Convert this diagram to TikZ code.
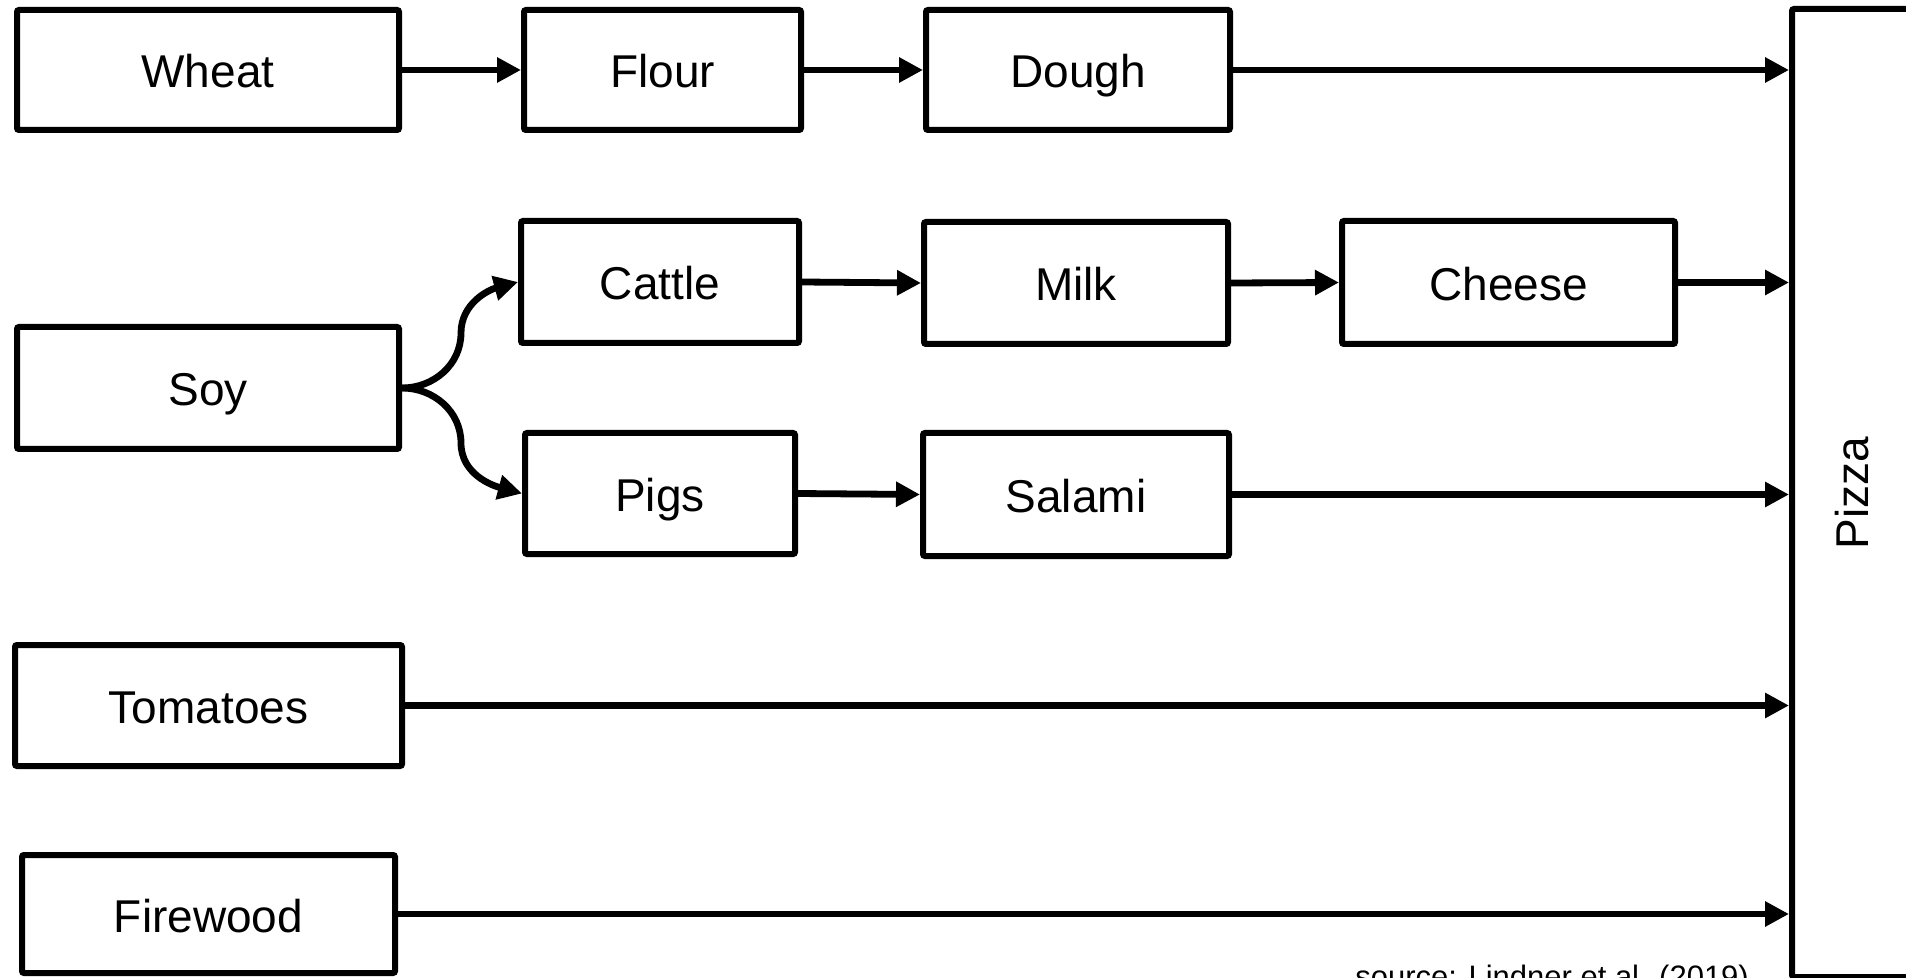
\documentclass[tikz,border=0pt]{standalone}
\usepackage{fontspec}
\setmainfont{Liberation Sans}
\usetikzlibrary{arrows.meta}
\tikzset{
  box/.style={draw, line width=3pt, rounded corners=1pt, inner sep=0pt, font=\fontsize{23pt}{27pt}\selectfont, fill=white, text height=21pt, text depth=3pt},
  flow/.style={line width=3.4pt, -{Triangle[length=12pt,width=12pt]}},
}
\begin{document}
\begin{tikzpicture}[x=0.5pt,y=-0.5pt]
\useasboundingbox (0,0) rectangle (1906,978);
\fill[white] (0,0) rectangle (1906,978);
\node[box, minimum width=191pt, minimum height=60pt] (wheat) at (208,70) {Wheat};
\node[box, minimum width=138.5pt, minimum height=60pt] (flour) at (662.5,70) {Flour};
\node[box, minimum width=152pt, minimum height=60pt] (dough) at (1078,70) {Dough};
\node[box, minimum width=139pt, minimum height=61pt] (cattle) at (660,282) {Cattle};
\node[box, minimum width=152pt, minimum height=61pt] (milk) at (1076,283) {Milk};
\node[box, minimum width=166.5pt, minimum height=61.5pt] (cheese) at (1508.5,282.5) {Cheese};
\node[box, minimum width=191pt, minimum height=61pt] (soy) at (208,388) {Soy};
\node[box, minimum width=135pt, minimum height=60.5pt] (pigs) at (660,493.5) {Pigs};
\node[box, minimum width=153pt, minimum height=61.5pt] (salami) at (1076,494.5) {Salami};
\node[box, minimum width=193.5pt, minimum height=60.5pt] (tomatoes) at (208.5,705.5) {Tomatoes};
\node[box, minimum width=186.5pt, minimum height=59pt] (firewood) at (208.5,914) {Firewood};
\node[box, text height=, text depth=, minimum width=60pt, minimum height=484pt] (pizza) at (1852,493) {\rotatebox{90}{Pizza}};
\coordinate (cu) at (461,333);
\coordinate (cd) at (461,443);
\draw[flow] (wheat.east) -- (flour.west);
\draw[flow] (flour.east) -- (dough.west);
\draw[flow] (dough.east) -- (dough.east -| pizza.west);
\draw[flow] (cattle.east) -- (milk.west);
\draw[flow] (milk.east) -- (cheese.west);
\draw[flow] (cheese.east) -- (cheese.east -| pizza.west);
\draw[flow] (pigs.east) -- (salami.west);
\draw[flow] (salami.east) -- (salami.east -| pizza.west);
\draw[flow] (tomatoes.east) -- (tomatoes.east -| pizza.west);
\draw[flow] (firewood.east) -- (firewood.east -| pizza.west);
\draw[flow] (soy.east) to[out=0,in=-90] (cu) to[out=90,in=195] (cattle.west);
\draw[flow] (soy.east) to[out=0,in=90] (cd) to[out=-90,in=165] (pigs.west);
\node[anchor=base west, inner sep=0pt, font=\fontsize{15.5pt}{18pt}\selectfont] (src) at (1355,987) {source: Lindner et al. (2019)};
\end{tikzpicture}
\end{document}
